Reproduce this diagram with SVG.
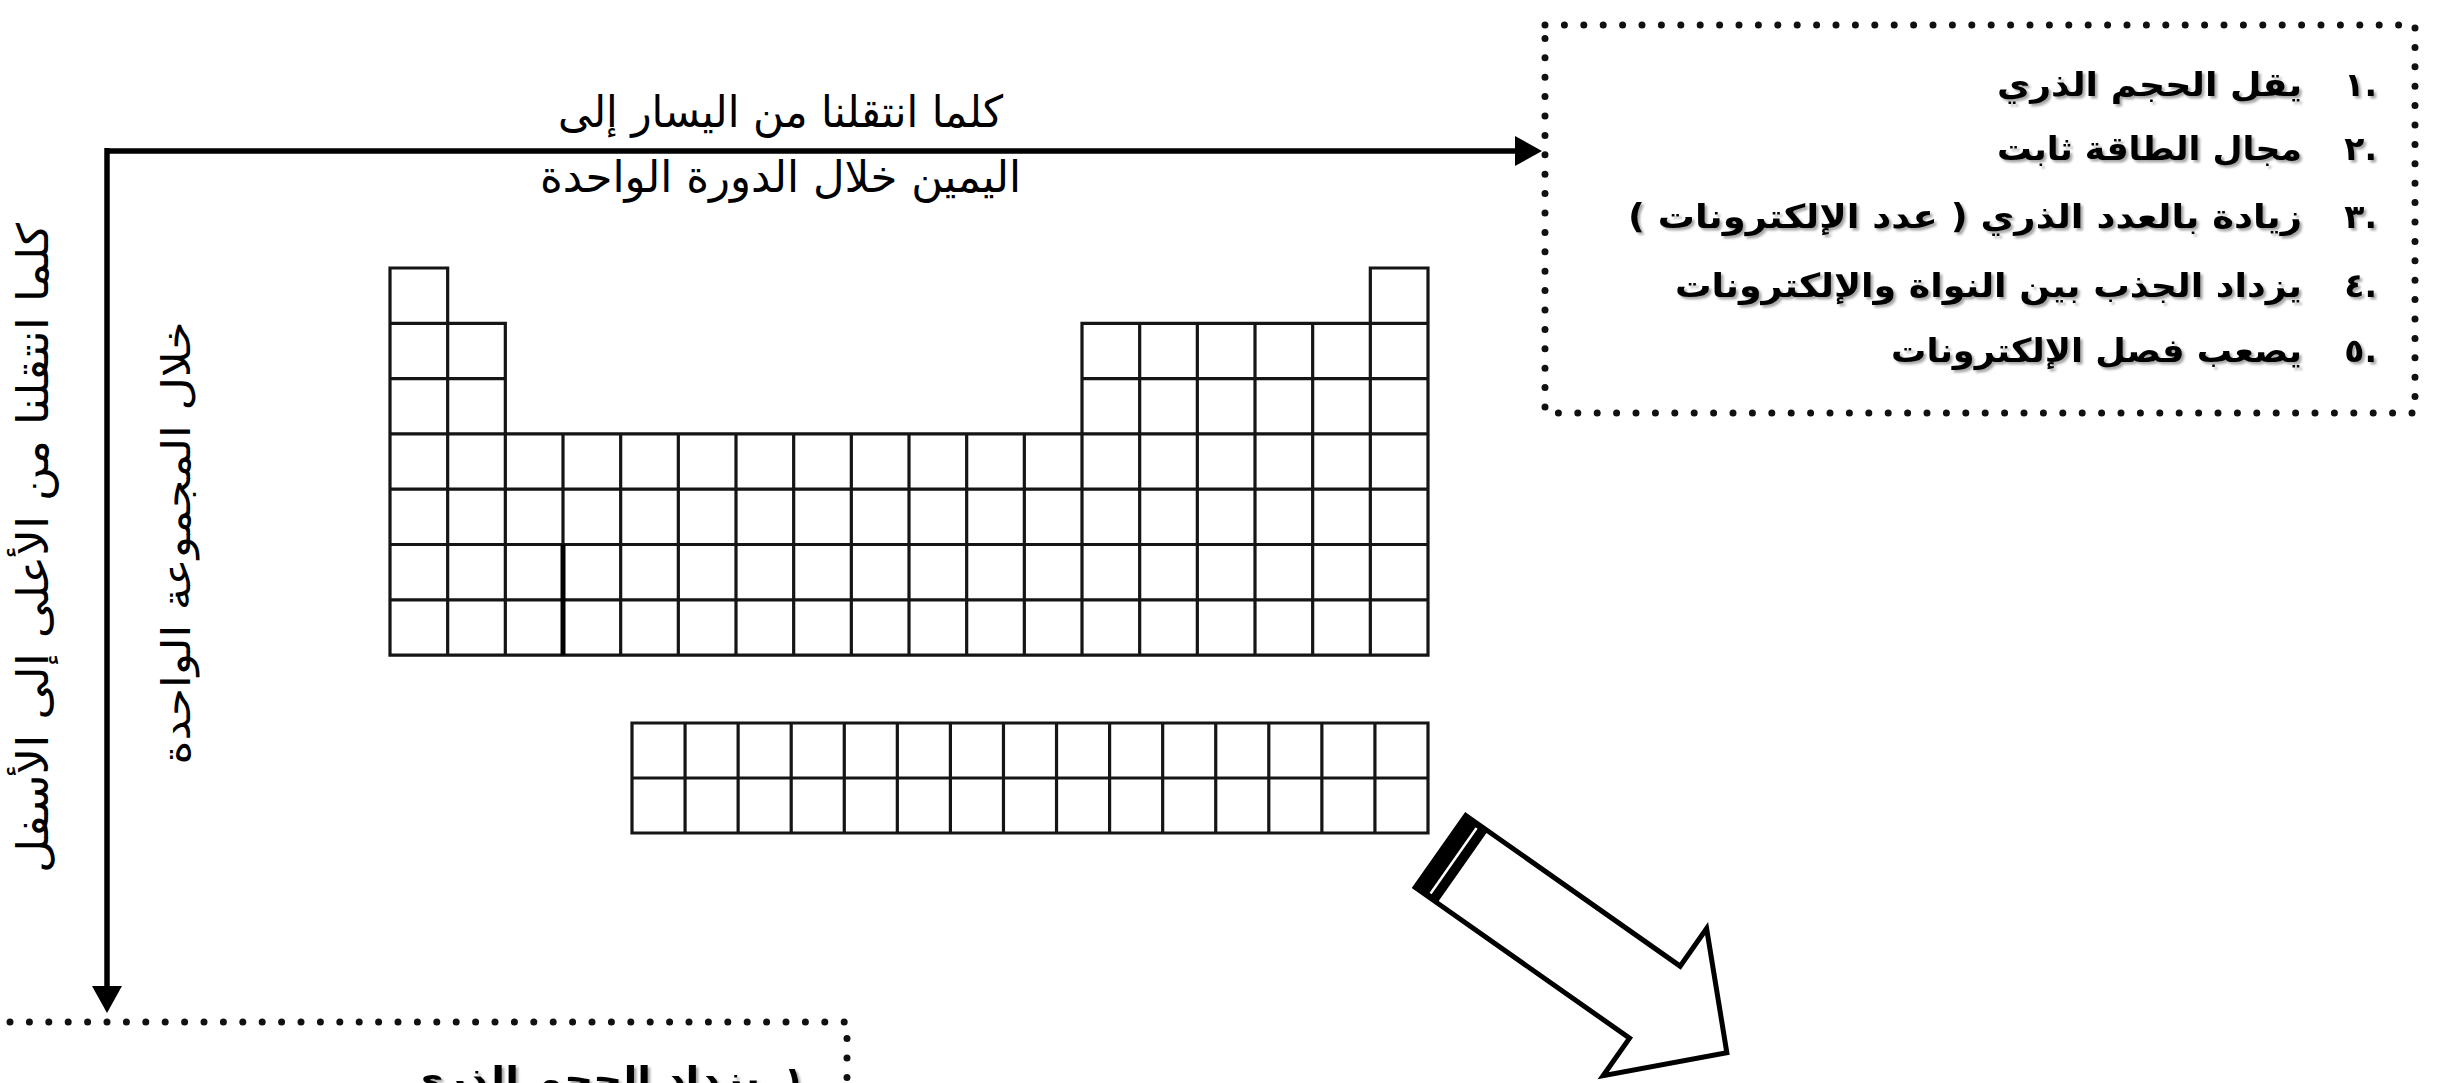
<svg xmlns="http://www.w3.org/2000/svg" width="2457" height="1083" viewBox="0 0 2457 1083">
<style>
  .grid{fill:none;stroke:#151515;stroke-width:3.2;stroke-linecap:square}
  .dots{fill:none;stroke:#111;stroke-width:7;stroke-linecap:round;stroke-dasharray:0 19.4}
  .conn{fill:none;stroke:#000;stroke-width:5.5}
  .lbl{font-family:"DejaVu Sans",sans-serif;font-size:44px;fill:#000}
  .item{font-family:"DejaVu Sans",sans-serif;font-size:33px;font-weight:bold;fill:#000}
</style>
<defs>
  <marker id="ah" markerUnits="userSpaceOnUse" markerWidth="28" markerHeight="30" refX="1" refY="15" orient="auto">
    <path d="M0,0 L27,15 L0,30 Z" fill="#000"/>
  </marker>
  <filter id="sh" x="-5%" y="-30%" width="110%" height="160%">
    <feDropShadow dx="2.5" dy="2.5" stdDeviation="1.3" flood-color="#000" flood-opacity="0.35"/>
  </filter>
</defs>
<rect width="2457" height="1083" fill="#fff"/>

<g id="main-table">
  <path class="grid" d="
    M390,268 H447.67 M1370.33,268 H1428
    M390,323.3 H505.33 M1082,323.3 H1428
    M390,378.6 H505.33 M1082,378.6 H1428
    M390,433.9 H1428 M390,489.2 H1428 M390,544.5 H1428 M390,599.8 H1428 M390,655.1 H1428
    M390,268 V655.1 M447.67,268 V655.1 M505.33,323.3 V655.1
    M563,433.9 V655.1 M620.67,433.9 V655.1 M678.33,433.9 V655.1 M736,433.9 V655.1
    M793.67,433.9 V655.1 M851.33,433.9 V655.1 M909,433.9 V655.1 M966.67,433.9 V655.1
    M1024.33,433.9 V655.1
    M1082,323.3 V655.1 M1139.67,323.3 V655.1 M1197.33,323.3 V655.1 M1255,323.3 V655.1
    M1312.67,323.3 V655.1 M1370.33,268 V655.1 M1428,268 V655.1"/>
  <path d="M563,544.5 V655.1" stroke="#000" stroke-width="5" fill="none"/>
</g>

<g id="f-block">
  <path class="grid" d="
    M632,723 H1428 M632,778 H1428 M632,833 H1428
    M632,723 V833 M685.07,723 V833 M738.13,723 V833 M791.2,723 V833 M844.27,723 V833
    M897.33,723 V833 M950.4,723 V833 M1003.47,723 V833 M1056.53,723 V833 M1109.6,723 V833
    M1162.67,723 V833 M1215.73,723 V833 M1268.8,723 V833 M1321.87,723 V833 M1374.93,723 V833
    M1428,723 V833"/>
</g>

<g id="connectors">
  <path class="conn" d="M107,151 H1516" marker-end="url(#ah)"/>
  <path class="conn" d="M107,148 V987" marker-end="url(#ah)"/>
</g>

<g id="label-period">
  <text class="lbl" x="780.5" y="127" text-anchor="middle" direction="rtl" textLength="445" lengthAdjust="spacingAndGlyphs">كلما انتقلنا من اليسار إلى</text>
  <text class="lbl" x="780.5" y="192" text-anchor="middle" direction="rtl" textLength="481" lengthAdjust="spacingAndGlyphs">اليمين خلال الدورة الواحدة</text>
</g>

<g id="label-group">
  <text class="lbl" transform="translate(48 548) rotate(-90)" x="0" y="0" text-anchor="middle" direction="rtl" textLength="650" lengthAdjust="spacingAndGlyphs" style="font-size:43px">كلما انتقلنا من الأعلى إلى الأسفل</text>
  <text class="lbl" transform="translate(190 543) rotate(-90)" x="0" y="0" text-anchor="middle" direction="rtl" textLength="443" lengthAdjust="spacingAndGlyphs" style="font-size:39px">خلال المجموعة الواحدة</text>
</g>

<g id="box-period">
  <path class="dots" d="M1545,25 H2415 V413 H1545 Z"/>
  <g filter="url(#sh)">
    <text class="item" x="2377" y="96" text-anchor="end">١.</text>
    <text class="item" x="2149.5" y="96" text-anchor="middle" direction="rtl" textLength="305" lengthAdjust="spacingAndGlyphs">يقل الحجم الذري</text>
    <text class="item" x="2377" y="160" text-anchor="end">٢.</text>
    <text class="item" x="2149.5" y="160" text-anchor="middle" direction="rtl" textLength="305" lengthAdjust="spacingAndGlyphs">مجال الطاقة ثابت</text>
    <text class="item" x="2377" y="228" text-anchor="end">٣.</text>
    <text class="item" x="1965" y="228" text-anchor="middle" direction="rtl" textLength="674" lengthAdjust="spacingAndGlyphs">زيادة بالعدد الذري ( عدد الإلكترونات )</text>
    <text class="item" x="2377" y="297" text-anchor="end">٤.</text>
    <text class="item" x="1988.5" y="297" text-anchor="middle" direction="rtl" textLength="627" lengthAdjust="spacingAndGlyphs">يزداد الجذب بين النواة والإلكترونات</text>
    <text class="item" x="2377" y="362" text-anchor="end">٥.</text>
    <text class="item" x="2096.5" y="362" text-anchor="middle" direction="rtl" textLength="411" lengthAdjust="spacingAndGlyphs">يصعب فصل الإلكترونات</text>
  </g>
</g>

<g id="box-group">
  <path class="dots" d="M10,1022 H847 V1095"/>
  <g filter="url(#sh)">
    <text class="item" x="817" y="1090" text-anchor="end">١.</text>
    <text class="item" x="583.5" y="1090" text-anchor="middle" direction="rtl" textLength="353" lengthAdjust="spacingAndGlyphs">يزداد الحجم الذري</text>
  </g>
</g>

<g id="big-arrow" transform="translate(1440.5 851.5) rotate(35.1)">
  <polygon points="0,-44 262,-44 262,-90 350,0 262,90 262,44 0,44" fill="#fff" stroke="#000" stroke-width="5" stroke-linejoin="miter"/>
  <rect x="0" y="-44" width="27" height="88" fill="#000"/>
  <line x1="16" y1="-40" x2="16" y2="40" stroke="#fff" stroke-width="2.5"/>
</g>
</svg>
